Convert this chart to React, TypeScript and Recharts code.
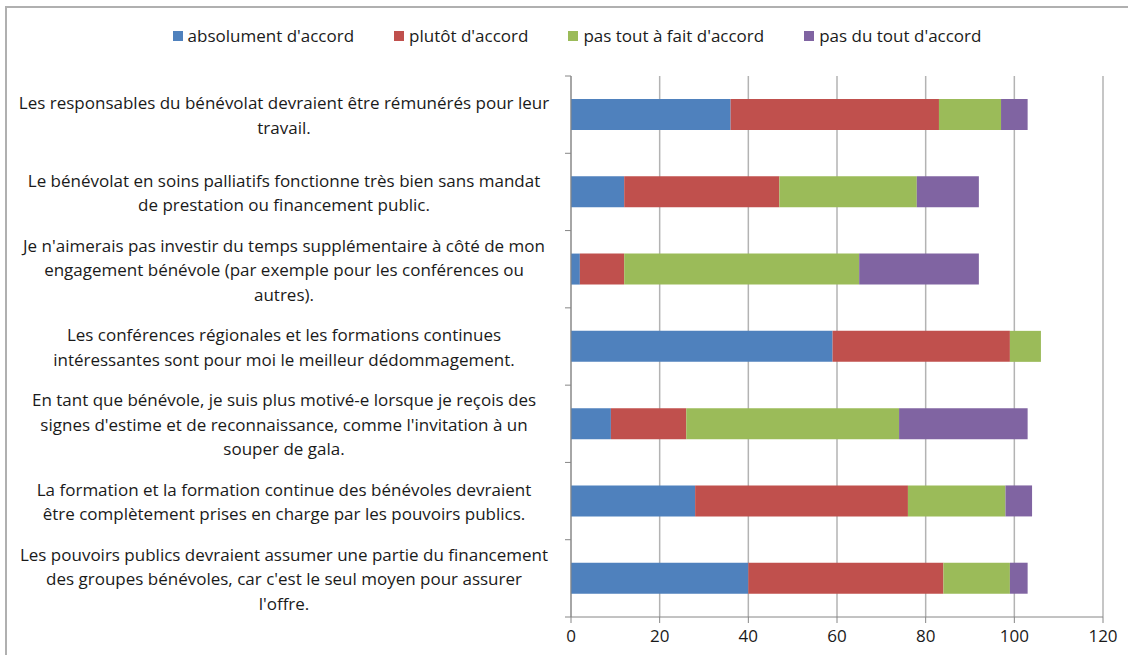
import React from "react";
import {
  BarChart,
  Bar,
  XAxis,
  YAxis,
  CartesianGrid,
} from "recharts";

// statements, top to bottom (line breaks as wrapped in the original)
const CATEGORIES = [
  "Les responsables du bénévolat devraient être rémunérés pour leur\ntravail.",
  "Le bénévolat en soins palliatifs fonctionne très bien sans mandat\nde prestation ou financement public.",
  "Je n'aimerais pas investir du temps supplémentaire à côté de mon\nengagement bénévole (par exemple pour les conférences ou\nautres).",
  "Les conférences régionales et les formations continues\nintéressantes sont pour moi le meilleur dédommagement.",
  "En tant que bénévole, je suis plus motivé-e lorsque je reçois des\nsignes d'estime et de reconnaissance, comme l'invitation à un\nsouper de gala.",
  "La formation et la formation continue des bénévoles devraient\nêtre complètement prises en charge par les pouvoirs publics.",
  "Les pouvoirs publics devraient assumer une partie du financement\ndes groupes bénévoles, car c'est le seul moyen pour assurer\nl'offre.",
];

const ABSOLUMENT = [36, 12, 2, 59, 9, 28, 40];
const PLUTOT = [47, 35, 10, 40, 17, 48, 44];
const PAS_TOUT_A_FAIT = [14, 31, 53, 7, 48, 22, 15];
const PAS_DU_TOUT = [6, 14, 27, 0, 29, 6, 4];

const X_TICKS = [0, 20, 40, 60, 80, 100, 120];

const SERIES = [
  { key: "absolument", name: "absolument d'accord", color: "#4F81BD" },
  { key: "plutot", name: "plutôt d'accord", color: "#C0504D" },
  { key: "pasTout", name: "pas tout à fait d'accord", color: "#9BBB59" },
  { key: "pasDuTout", name: "pas du tout d'accord", color: "#8064A2" },
];

const data = CATEGORIES.map((label, i) => ({
  label,
  absolument: ABSOLUMENT[i],
  plutot: PLUTOT[i],
  pasTout: PAS_TOUT_A_FAIT[i],
  pasDuTout: PAS_DU_TOUT[i],
}));

const W = 1128;
const H = 655;
const X_AXIS_H = 30;
const MARGIN = { top: 76, right: 25, bottom: 38 - X_AXIS_H, left: 0 };
const AXIS_W = 571;
const PLOT_H = H - MARGIN.top - MARGIN.bottom - X_AXIS_H;
const BAND = PLOT_H / CATEGORIES.length;
const FONT = "'Open Sans', sans-serif";
const AXIS_COLOR = "#868686";
const TEXT = "#1a1a1a";

function CategoryTick(props: any) {
  const { payload, index } = props;
  const y = payload.coordinate;
  const lines = String(payload.value).split("\n");
  const lh = 24.5;
  const startY = y - ((lines.length - 1) * lh) / 2;
  const isLast = index === CATEGORIES.length - 1;
  return (
    <g>
      <line x1={AXIS_W - 6} x2={AXIS_W} y1={y - BAND / 2} y2={y - BAND / 2} stroke={AXIS_COLOR} />
      {isLast && (
        <line x1={AXIS_W - 6} x2={AXIS_W} y1={y + BAND / 2} y2={y + BAND / 2} stroke={AXIS_COLOR} />
      )}
      <text
        x={284}
        y={startY}
        textAnchor="middle"
        dominantBaseline="central"
        fontFamily={FONT}
        fontSize={17}
        fill={TEXT}
      >
        {lines.map((l, i) => (
          <tspan key={i} x={284} y={startY + i * lh}>
            {l}
          </tspan>
        ))}
      </text>
    </g>
  );
}

export default function App() {
  return (
    <div style={{ position: "relative", width: W, height: H, background: "#fff", overflow: "hidden" }}>
      <style>{`body{margin:0}`}</style>
      <div
        style={{
          position: "absolute",
          left: 5,
          top: 6,
          width: W,
          height: H,
          borderTop: "2px solid #b0b0b0",
          borderLeft: "2px solid #b0b0b0",
        }}
      />
      {/* legend, drawn outside the chart so it does not shift the plot area */}
      <div
        style={{
          position: "absolute",
          top: 24,
          left: 0,
          width: W,
          display: "flex",
          justifyContent: "center",
          gap: 40,
          paddingLeft: 26,
          boxSizing: "border-box",
          fontFamily: FONT,
          fontSize: 17,
          color: TEXT,
        }}
      >
        {SERIES.map((s) => (
          <div key={s.key} style={{ display: "flex", alignItems: "center" }}>
            <span style={{ display: "inline-block", width: 10, height: 10, background: s.color, marginRight: 5 }} />
            <span>{s.name}</span>
          </div>
        ))}
      </div>
      <BarChart
        width={W}
        height={H}
        data={data}
        layout="vertical"
        margin={MARGIN}
        barSize={31}
        style={{ position: "absolute", left: 0, top: 0 }}
      >
        <CartesianGrid horizontal={false} stroke="#b3b3b3" strokeWidth={1.5} />
        <XAxis
          type="number"
          domain={[0, 120]}
          ticks={X_TICKS}
          interval={0}
          height={X_AXIS_H}
          tick={{ fontFamily: FONT, fontSize: 17, fill: TEXT }}
          axisLine={{ stroke: AXIS_COLOR }}
          tickLine={{ stroke: AXIS_COLOR }}
          tickSize={6}
          tickMargin={7}
        />
        <YAxis
          type="category"
          dataKey="label"
          width={AXIS_W}
          interval={0}
          axisLine={{ stroke: AXIS_COLOR }}
          tickLine={false}
          tick={<CategoryTick />}
        />
        {SERIES.map((s) => (
          <Bar
            key={s.key}
            dataKey={s.key}
            name={s.name}
            stackId="a"
            fill={s.color}
            isAnimationActive={false}
          />
        ))}
      </BarChart>
    </div>
  );
}
